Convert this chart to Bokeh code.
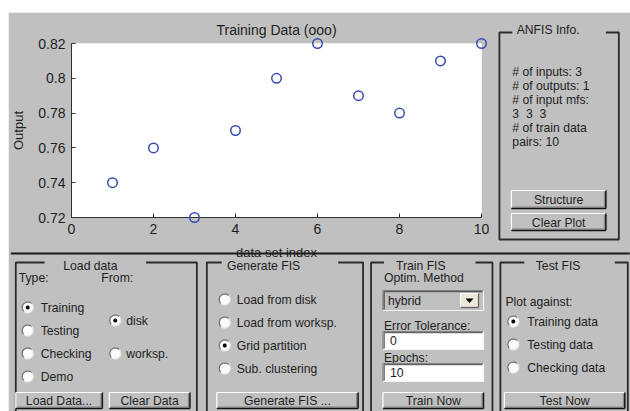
import numpy as np
from bokeh.plotting import figure
from bokeh.models import Range1d, FixedTicker, Spacer
from bokeh.layouts import column, row
from bokeh.embed import file_html
from bokeh.resources import INLINE
from bokeh.core.properties import value

# ---------------- data ----------------
data_index = [1, 2, 3, 4, 5, 6, 7, 8, 9, 10]
output_values = [0.74, 0.76, 0.72, 0.77, 0.80, 0.82, 0.79, 0.78, 0.81, 0.82]
x_ticks = [0, 2, 4, 6, 8, 10]
x_tick_labels = ["0", "2", "4", "6", "8", "10"]
y_ticks = [0.72, 0.74, 0.76, 0.78, 0.80, 0.82]
y_tick_labels = ["0.72", "0.74", "0.76", "0.78", "0.8", "0.82"]
info_lines = ["# of inputs: 3", "# of outputs: 1", "# of input mfs:",
              "3\u00a0\u00a03\u00a0\u00a03", "# of train data", "pairs: 10"]

GREY = "#c0c0c0"
FONT = "Liberation Sans"
TXT = "#1e1e1e"
DARK = "#2a2a2a"
FS = "12.2px"

# frame placement in page pixels (left, right, top, bottom)
FL, FR, FT, FB = 69, 481, 43, 217
PAGE_W, PAGE_H = 630, 411
OX, OY = 8, 12   # white band left / top

# ---------------- main plot ----------------
p = figure(width=PAGE_W - OX, height=PAGE_H - OY,
           x_range=Range1d(0, 10), y_range=Range1d(0.72, 0.82),
           output_backend="svg", toolbar_location=None,
           min_border_left=FL - OX, min_border_right=PAGE_W - FR,
           min_border_top=FT - OY, min_border_bottom=PAGE_H - FB,
           background_fill_color="white", border_fill_color=GREY, outline_line_color=None,
           title="Training Data (ooo)")
# pixel-like helper ranges for the GUI decorations around the chart
p.extra_x_ranges = {"px": Range1d(FL, FR)}
p.extra_y_ranges = {"px": Range1d(FB, FT)}

p.grid.visible = False
p.title.align = "center"
p.title.text_font = FONT
p.title.text_font_size = "14px"
p.title.text_font_style = "normal"
p.title.text_color = TXT
p.title.standoff = 12

for ax in (p.xaxis[0], p.yaxis[0]):
    ax.major_tick_in = 4
    ax.major_tick_out = 0
    ax.minor_tick_in = 0
    ax.minor_tick_out = 0
    ax.axis_line_color = "#303030"
    ax.major_tick_line_color = "#303030"
    ax.major_label_text_font = FONT
    ax.major_label_text_font_size = "14px"
    ax.major_label_text_color = TXT
    ax.axis_label_text_font = FONT
    ax.axis_label_text_font_size = "13px"
    ax.axis_label_text_font_style = "normal"
    ax.axis_label_text_color = TXT

p.xaxis.ticker = FixedTicker(ticks=x_ticks)
p.xaxis.major_label_overrides = dict(zip(x_ticks, x_tick_labels))
p.yaxis.ticker = FixedTicker(ticks=y_ticks)
p.yaxis.major_label_overrides = dict(zip(y_ticks, y_tick_labels))
p.xaxis.axis_label = "data set index"
p.yaxis.axis_label = "Output"
p.xaxis.major_label_standoff = 6
p.xaxis.axis_label_standoff = 8
p.yaxis.major_label_standoff = 6
p.yaxis.axis_label_standoff = 9

r = p.scatter(data_index, output_values, marker="circle", size=9.5, fill_color=None,
              line_color="#3848b4", line_width=1.5)
r.level = "overlay"

PX = dict(x_range_name="px", y_range_name="px", level="overlay")


# ---------------- helpers ----------------
def txt(x, y, s, align="left", size=FS, color=TXT):
    p.text(x=[x], y=[y], text=[s], text_font=value(FONT), text_font_size=size,
           text_align=align, text_baseline="middle", text_color=color, **PX)


def seg(x0, y0, x1, y1, color, width):
    p.segment(x0=x0, y0=y0, x1=x1, y1=y1, line_color=color, line_width=width, **PX)


def box(x0, x1, y0, y1, fill):
    p.quad(left=[x0], right=[x1], top=[y0], bottom=[y1], fill_color=fill, line_color=None, **PX)


def button(x0, x1, y0, y1, label):
    box(x0, x1, y0, y1, GREY)
    seg([x0, x0], [y0, y0], [x1, x0], [y0, y1], "white", 1.2)
    seg([x0 + 1, x1 - 1.5], [y1 - 1.5, y0 + 1], [x1 - 1.5, x1 - 1.5], [y1 - 1.5, y1 - 1.5], "#808080", 1)
    seg([x0, x1], [y1, y0], [x1, x1], [y1, y1], "#111111", 1.5)
    txt((x0 + x1) / 2, (y0 + y1) / 2 + 0.5, label, align="center")


def sunken(x0, x1, y0, y1, fill):
    box(x0, x1, y0, y1, fill)
    seg([x0, x0], [y0, y0], [x1, x0], [y0, y1], "#808080", 1.2)
    seg([x0 + 1.2, x0 + 1.2], [y0 + 1.2, y0 + 1.2], [x1 - 1, x0 + 1.2], [y0 + 1.2, y1 - 1], "#404040", 1)
    seg([x0, x1], [y1, y0], [x1, x1], [y1, y1], "#f4f4f4", 1.2)


def ring(x, y, rad, a0, a1, n=24):
    t = np.linspace(a0, a1, n)
    return list(x + rad * np.cos(t)), list(y - rad * np.sin(t))


def radio(x, y, label, tx, selected=False):
    cx, cy = ring(x, y, 5.5, 0, 2 * np.pi, 32)
    p.patch(cx, cy, fill_color="#fbfbfb", line_color=None, **PX)
    ax_, ay_ = ring(x, y, 5.5, np.pi / 4, 5 * np.pi / 4)
    p.line(ax_, ay_, line_color="#707070", line_width=1.2, **PX)
    bx_, by_ = ring(x, y, 5.5, 5 * np.pi / 4, 9 * np.pi / 4)
    p.line(bx_, by_, line_color="#e6e6e6", line_width=1.2, **PX)
    if selected:
        dx, dy = ring(x, y, 2, 0, 2 * np.pi, 16)
        p.patch(dx, dy, fill_color="black", line_color=None, **PX)
    txt(tx, y, label)


def panel(x0, x1, y0, y1, g0, g1, title, tx, ty):
    p.multi_line(xs=[[g0, x0, x0, x1, x1, g1]], ys=[[y0, y0, y1, y1, y0, y0]],
                 line_color=DARK, line_width=1.8, **PX)
    txt(tx, ty, title, align="center")


# ---------------- info panel ----------------
panel(499, 619, 32, 239, 512, 606, "ANFIS Info.", 548, 29)
for i, line in enumerate(info_lines):
    txt(512, 71 + 14 * i, line)
button(511, 606, 190, 208, "Structure")
button(511, 606, 213, 230, "Clear Plot")

# ---------------- separator ----------------
seg([OX], [253], [PAGE_W], [253], "#1a1a1a", 2)

# Load data
panel(13, 195, 262, 430, 42, 144, "Load data", 88, 265)
txt(16, 277, "Type:")
txt(99, 277, "From:")
radio(25, 307, "Training", 38, True)
radio(25, 330, "Testing", 38)
radio(25, 353, "Checking", 38)
radio(25, 376, "Demo", 38)
radio(113, 320, "disk", 124, True)
radio(113, 353, "worksp.", 124)
button(13, 100, 392, 408, "Load Data...")
button(107, 188, 392, 408, "Clear Data")

# Generate FIS
panel(205, 362, 262, 430, 220, 337, "Generate FIS", 262, 265)
radio(223, 299, "Load from disk", 235)
radio(223, 322, "Load from worksp.", 235)
radio(223, 345, "Grid partition", 235, True)
radio(223, 368, "Sub. clustering", 235)
button(215, 357, 392, 408, "Generate FIS ...")

# Train FIS
panel(370, 492, 262, 430, 383, 475, "Train FIS", 420, 265)
txt(383, 277, "Optim. Method")
sunken(382, 483, 290, 310, GREY)
txt(387, 300, "hybrid")
box(460, 478, 293, 307, "#ece8d8")
seg([460, 460], [293, 293], [478, 460], [293, 307], "white", 1)
seg([460, 478], [307, 293], [478, 478], [307, 307], "#606060", 1.2)
p.patch([465, 473, 469], [298, 298, 302.5], fill_color="black", line_color=None, **PX)
txt(383, 325, "Error Tolerance:")
sunken(382, 483, 331, 349, "white")
txt(389, 340, "0")
txt(383, 357, "Epochs:")
sunken(382, 483, 363, 381, "white")
txt(389, 372, "10")
button(382, 483, 392, 408, "Train Now")

# Test FIS
panel(500, 628, 262, 430, 524, 615, "Test FIS", 558, 265)
txt(505, 301, "Plot against:")
radio(513, 321, "Training data", 527, True)
radio(513, 344, "Testing data", 527)
radio(513, 367, "Checking data", 527)
button(504, 625, 392, 408, "Test Now")

layout = column(Spacer(width=PAGE_W, height=OY),
                row(Spacer(width=OX, height=PAGE_H - OY), p))

open("out.html", "w").write(file_html(layout, INLINE))
